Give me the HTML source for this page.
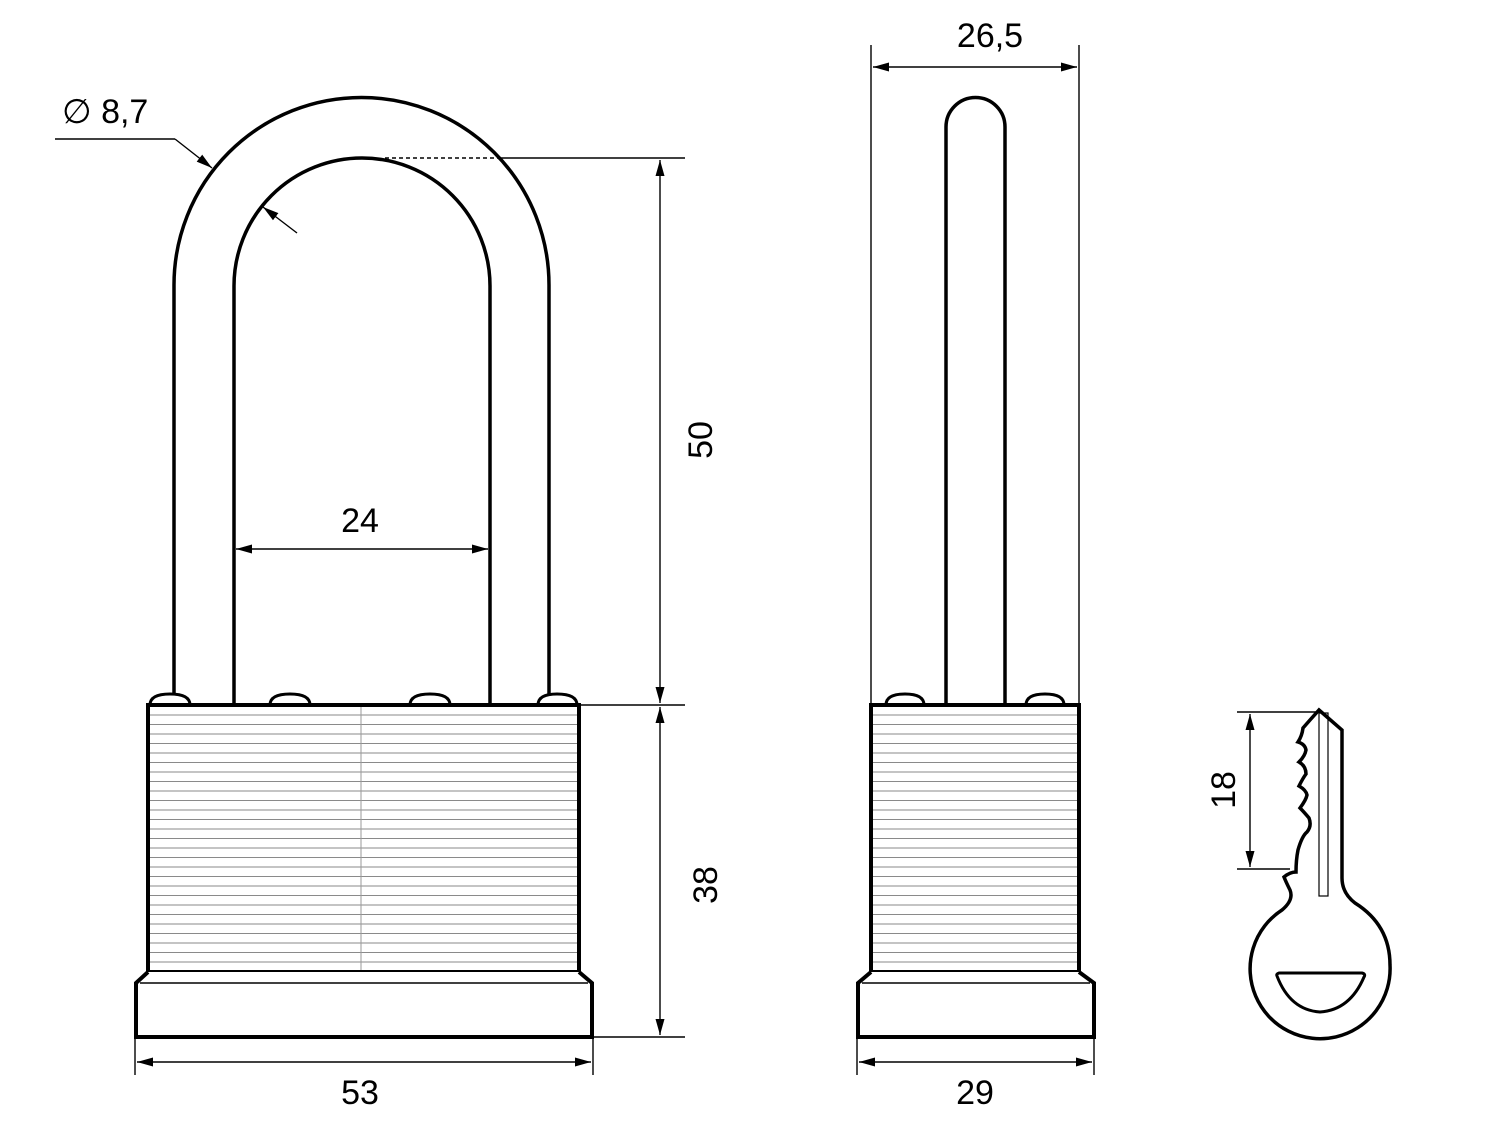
<!DOCTYPE html>
<html><head><meta charset="utf-8"><style>html,body{margin:0;padding:0;background:#fff}svg{display:block}text{font-family:"Liberation Sans",Arial,sans-serif;font-size:34px;fill:#000}</style></head>
<body>
<svg width="1500" height="1125" viewBox="0 0 1500 1125" xmlns="http://www.w3.org/2000/svg">
<defs>
<pattern id="st" x="0" y="707" width="10" height="9.5" patternUnits="userSpaceOnUse">
<rect width="10" height="9.5" fill="#fff"/><line x1="0" y1="8" x2="10" y2="8" stroke="#8a8a8a" stroke-width="1"/></pattern>
<marker id="a" viewBox="0 0 16 10" refX="16" refY="5" markerWidth="16" markerHeight="10" markerUnits="userSpaceOnUse" orient="auto-start-reverse"><path d="M0,0.5 L16,5 L0,9.5 Z" fill="#000"/></marker>
</defs>
<g fill="none" stroke="#000">
<path d="M174,705 V285 A187.5,187.5 0 0 1 549,285 V705" stroke-width="3.5"/>
<path d="M234,705 V286 A128,128 0 0 1 490,286 V705" stroke-width="3.5"/>
<g stroke-width="3" fill="#fff">
<path d="M150,705 Q150,694 170,694 Q190,694 190,705"/>
<path d="M270,705 Q270,694 290,694 Q310,694 310,705"/>
<path d="M410,705 Q410,694 430,694 Q450,694 450,705"/>
<path d="M538,705 Q538,694 557,694 Q577,694 577,705"/>
</g>
<rect x="148" y="705" width="431" height="267" fill="url(#st)" stroke-width="4"/>
<line x1="361" y1="707" x2="361" y2="970" stroke="#999" stroke-width="1"/>
<path d="M148,972 L136,983 V1037 H592 V983 L579,972" stroke-width="4" fill="#fff"/>
<line x1="140" y1="983" x2="588" y2="983" stroke-width="1.5"/>
<path d="M946,705 V127 A29.5,29.5 0 0 1 1005,127 V705" stroke-width="3.5"/>
<g stroke-width="3" fill="#fff">
<path d="M886,705 Q886,694 905,694 Q924,694 924,705"/>
<path d="M1026,705 Q1026,694 1045,694 Q1064,694 1064,705"/>
</g>
<rect x="871" y="705" width="208" height="267" fill="url(#st)" stroke-width="4"/>
<path d="M871,972 L858,983 V1037 H1094 V983 L1079,972" stroke-width="4" fill="#fff"/>
<line x1="862" y1="983" x2="1090" y2="983" stroke-width="1.5"/>
<path d="M1319,710 L1342,730 V878 Q1342,893 1355,903 Q1390,925 1390,965 A70,70 0 1 1 1282,910 Q1294,900 1290,890 Q1286,882 1284,877 Q1290,872 1296,872 Q1296,860 1298,850 Q1302,836 1307,832 Q1312,826 1309,818 Q1304,812 1300,808 Q1306,800 1307,795 Q1306,790 1299,786 Q1303,778 1306,774 Q1306,766 1299,762 Q1305,756 1306,750 Q1305,744 1298,742 Q1302,736 1303,728 L1310,720 Z" stroke-width="3.5" fill="#fff"/>
<rect x="1319" y="713" width="9" height="183" stroke-width="1.2"/>
<path d="M1277,976 Q1276,974 1279,973 H1362 Q1366,974 1364,977 Q1350,1010 1320,1012 Q1290,1010 1277,976 Z" stroke-width="3"/>
<g stroke-width="1.4">
<line x1="55" y1="139" x2="175" y2="139"/>
<line x1="175" y1="139" x2="212" y2="168" marker-end="url(#a)"/>
<line x1="297" y1="233" x2="263" y2="207" marker-end="url(#a)"/>
<line x1="385" y1="158" x2="498" y2="158" stroke-dasharray="4,3"/>
<line x1="498" y1="158" x2="685" y2="158"/>
<line x1="580" y1="705" x2="685" y2="705"/>
<line x1="593" y1="1037" x2="685" y2="1037"/>
<line x1="660" y1="160" x2="660" y2="703" marker-start="url(#a)" marker-end="url(#a)"/>
<line x1="660" y1="707" x2="660" y2="1035" marker-start="url(#a)" marker-end="url(#a)"/>
<line x1="236" y1="549" x2="488" y2="549" marker-start="url(#a)" marker-end="url(#a)"/>
<line x1="135" y1="1037" x2="135" y2="1075"/>
<line x1="593" y1="1037" x2="593" y2="1075"/>
<line x1="137" y1="1062" x2="591" y2="1062" marker-start="url(#a)" marker-end="url(#a)"/>
<line x1="857" y1="1037" x2="857" y2="1075"/>
<line x1="1094" y1="1037" x2="1094" y2="1075"/>
<line x1="859" y1="1062" x2="1092" y2="1062" marker-start="url(#a)" marker-end="url(#a)"/>
<line x1="871" y1="45" x2="871" y2="705"/>
<line x1="1079" y1="45" x2="1079" y2="705"/>
<line x1="873" y1="67" x2="1077" y2="67" marker-start="url(#a)" marker-end="url(#a)"/>
<line x1="1237" y1="712" x2="1319" y2="712"/>
<line x1="1237" y1="869" x2="1290" y2="869"/>
<line x1="1250" y1="714" x2="1250" y2="867" marker-start="url(#a)" marker-end="url(#a)"/>
</g>
</g>
<text x="62" y="123">∅ 8,7</text>
<text x="360" y="532" text-anchor="middle">24</text>
<text x="360" y="1104" text-anchor="middle">53</text>
<text x="975" y="1104" text-anchor="middle">29</text>
<text x="990" y="47" text-anchor="middle">26,5</text>
<text transform="translate(712,440) rotate(-90)" text-anchor="middle">50</text>
<text transform="translate(717,885) rotate(-90)" text-anchor="middle">38</text>
<text transform="translate(1235,790) rotate(-90)" text-anchor="middle">18</text>
</svg>
</body></html>
